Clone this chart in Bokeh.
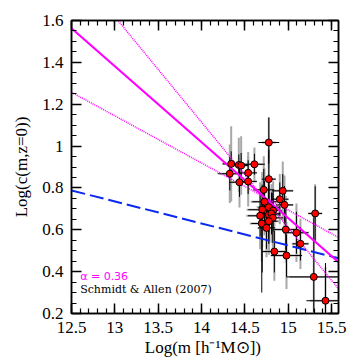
from bokeh.plotting import figure
from bokeh.models import (FixedTicker, LinearAxis, Label,
                          CustomJSTickFormatter, Range1d)
from bokeh.embed import file_html
from bokeh.resources import INLINE

# ---- data ----
m = [14.776, 14.342, 14.430, 14.457, 14.610, 14.326, 14.538, 14.438, 14.538, 14.776,
     14.718, 14.937, 14.903, 14.726, 14.957, 14.776, 14.700, 14.826, 14.776, 14.807,
     14.676, 14.822, 14.776, 14.695, 14.749, 14.972, 15.311, 15.095, 15.141, 14.840,
     14.980, 15.295, 15.430]
logc = [1.017, 0.915, 0.910, 0.907, 0.913, 0.868, 0.872, 0.827, 0.831, 0.842,
        0.791, 0.786, 0.746, 0.734, 0.719, 0.708, 0.696, 0.692, 0.672, 0.678,
        0.667, 0.657, 0.641, 0.630, 0.609, 0.601, 0.678, 0.586, 0.533, 0.496,
        0.477, 0.375, 0.261]
# black error bars
ex = [0.12, 0.10, 0.10, 0.08, 0.12, 0.14, 0.10, 0.12, 0.10, 0.08,
      0.12, 0.12, 0.10, 0.14, 0.10, 0.12, 0.16, 0.10, 0.12, 0.10,
      0.14, 0.12, 0.10, 0.12, 0.10, 0.14, 0.08, 0.14, 0.09, 0.14,
      0.18, 0.32, 0.22]
ey_hi = [0.12, 0.06, 0.05, 0.06, 0.05, 0.08, 0.06, 0.07, 0.06, 0.14,
         0.10, 0.08, 0.08, 0.10, 0.09, 0.12, 0.12, 0.10, 0.14, 0.10,
         0.10, 0.12, 0.10, 0.10, 0.10, 0.10, 0.13, 0.10, 0.08, 0.10,
         0.10, 0.30, 0.18]
ey_lo = [0.10, 0.06, 0.05, 0.06, 0.05, 0.08, 0.06, 0.07, 0.06, 0.14,
         0.10, 0.08, 0.08, 0.10, 0.09, 0.12, 0.30, 0.10, 0.14, 0.10,
         0.10, 0.12, 0.10, 0.33, 0.10, 0.10, 0.13, 0.10, 0.08, 0.10,
         0.10, 0.17, 0.06]
# gray (larger) error bars
gx = [0.08, 0.10, 0.08, 0.08, 0.12, 0.12, 0.10, 0.10, 0.10, 0.08,
      0.12, 0.12, 0.10, 0.16, 0.10, 0.14, 0.18, 0.10, 0.14, 0.10,
      0.16, 0.12, 0.12, 0.14, 0.10, 0.14, 0.08, 0.14, 0.10, 0.14,
      0.18, 0.28, 0.18]
gy = [0.12, 0.18, 0.13, 0.14, 0.08, 0.14, 0.10, 0.12, 0.12, 0.14,
      0.16, 0.14, 0.12, 0.16, 0.14, 0.16, 0.18, 0.14, 0.18, 0.14,
      0.16, 0.16, 0.16, 0.18, 0.14, 0.16, 0.14, 0.14, 0.12, 0.14,
      0.16, 0.28, 0.16]

# model lines (endpoints)
line_m = [12.5, 15.6]
fit_solid = [1.563, 0.438]
fit_dot_steep = [1.870, 0.308]
fit_dot_shallow = [1.257, 0.559]
schmidt_allen = [0.788, 0.462]

x_ticks = [12.5, 13, 13.5, 14, 14.5, 15, 15.5]
y_ticks = [0.2, 0.4, 0.6, 0.8, 1, 1.2, 1.4, 1.6]

x_minor = [round(12.5 + 0.1 * i, 2) for i in range(32)]
y_minor = [round(0.2 + 0.05 * i, 2) for i in range(29)]

SERIF = "Liberation Serif"

p = figure(output_backend="svg", toolbar_location=None,
           frame_width=267, frame_height=293,
           x_range=Range1d(12.5, 15.58), y_range=Range1d(0.2, 1.6),
           min_border_left=71, min_border_right=11, min_border_top=20,
           min_border_bottom=38)
p.background_fill_color = "white"
p.border_fill_color = "white"
p.outline_line_color = "black"
p.outline_line_width = 1.5
p.grid.visible = False

# gray error bars (behind)
x_lo_g = [a - b for a, b in zip(m, gx)]
x_hi_g = [a + b for a, b in zip(m, gx)]
y_lo_g = [a - b for a, b in zip(logc, gy)]
y_hi_g = [a + b for a, b in zip(logc, gy)]
p.segment(x0=x_lo_g, y0=logc, x1=x_hi_g, y1=logc, line_color="#a8a8a8", line_width=2)
p.segment(x0=m, y0=y_lo_g, x1=m, y1=y_hi_g, line_color="#a8a8a8", line_width=2)

# black error bars
x_lo = [a - b for a, b in zip(m, ex)]
x_hi = [a + b for a, b in zip(m, ex)]
y_lo = [a - b for a, b in zip(logc, ey_lo)]
y_hi = [a + b for a, b in zip(logc, ey_hi)]
p.segment(x0=x_lo, y0=logc, x1=x_hi, y1=logc, line_color="black", line_width=1)
p.segment(x0=m, y0=y_lo, x1=m, y1=y_hi, line_color="black", line_width=1)

# lines
p.line(line_m, schmidt_allen, line_color="#0a28f0", line_width=2, line_dash="14 5")
p.line(line_m, fit_dot_steep, line_color="#ff00ff", line_width=1.5, line_dash="1 1")
p.line(line_m, fit_dot_shallow, line_color="#ff00ff", line_width=1.5, line_dash="1 1")
p.line(line_m, fit_solid, line_color="#ff00ff", line_width=2)

# points
p.scatter(m, logc, size=7, fill_color="#ff0000", line_color="black", line_width=1)

# axes styling
def style_axis(ax, ticks, minor, show_labels):
    ax.ticker = FixedTicker(ticks=ticks, minor_ticks=minor)
    ax.major_tick_in = 10
    ax.major_tick_out = 0
    ax.minor_tick_in = 5
    ax.minor_tick_out = 0
    ax.axis_line_color = "black"
    ax.axis_line_width = 1.5
    ax.major_tick_line_color = "black"
    ax.major_tick_line_width = 1.5
    ax.minor_tick_line_color = "black"
    ax.minor_tick_line_width = 1.2
    if show_labels:
        ax.formatter = CustomJSTickFormatter(code="return String(tick);")
        ax.major_label_text_font = SERIF
        ax.major_label_text_font_size = "17px"
        ax.major_label_text_color = "black"
        ax.major_label_standoff = 8
    else:
        ax.formatter = CustomJSTickFormatter(code="return '';")

style_axis(p.xaxis[0], x_ticks, x_minor, True)
style_axis(p.yaxis[0], y_ticks, y_minor, True)
p.xaxis[0].axis_label = "Log(m  [h\u207b\u00b9M\u2299])"
p.yaxis[0].axis_label = "Log(c(m,z=0))"
for ax in (p.xaxis[0], p.yaxis[0]):
    ax.axis_label_text_font = SERIF
    ax.axis_label_text_font_size = "17px"
    ax.axis_label_text_font_style = "normal"
    ax.axis_label_text_color = "black"
p.xaxis[0].axis_label_standoff = 2
p.yaxis[0].axis_label_standoff = 8

top = LinearAxis()
style_axis(top, x_ticks, x_minor, False)
p.add_layout(top, "above")
right = LinearAxis()
style_axis(right, y_ticks, y_minor, False)
p.add_layout(right, "right")

p.add_layout(Label(x=12.6, y=0.377, text="\u03b1 = 0.36", text_color="#ff00ff",
                   text_font="DejaVu Sans", text_font_size="11px",
                   text_baseline="middle"))
p.add_layout(Label(x=12.6, y=0.315, text="Schmidt & Allen (2007)", text_color="black",
                   text_font="DejaVu Serif", text_font_size="11px",
                   text_baseline="middle"))

open("out.html", "w").write(file_html(p, INLINE))
